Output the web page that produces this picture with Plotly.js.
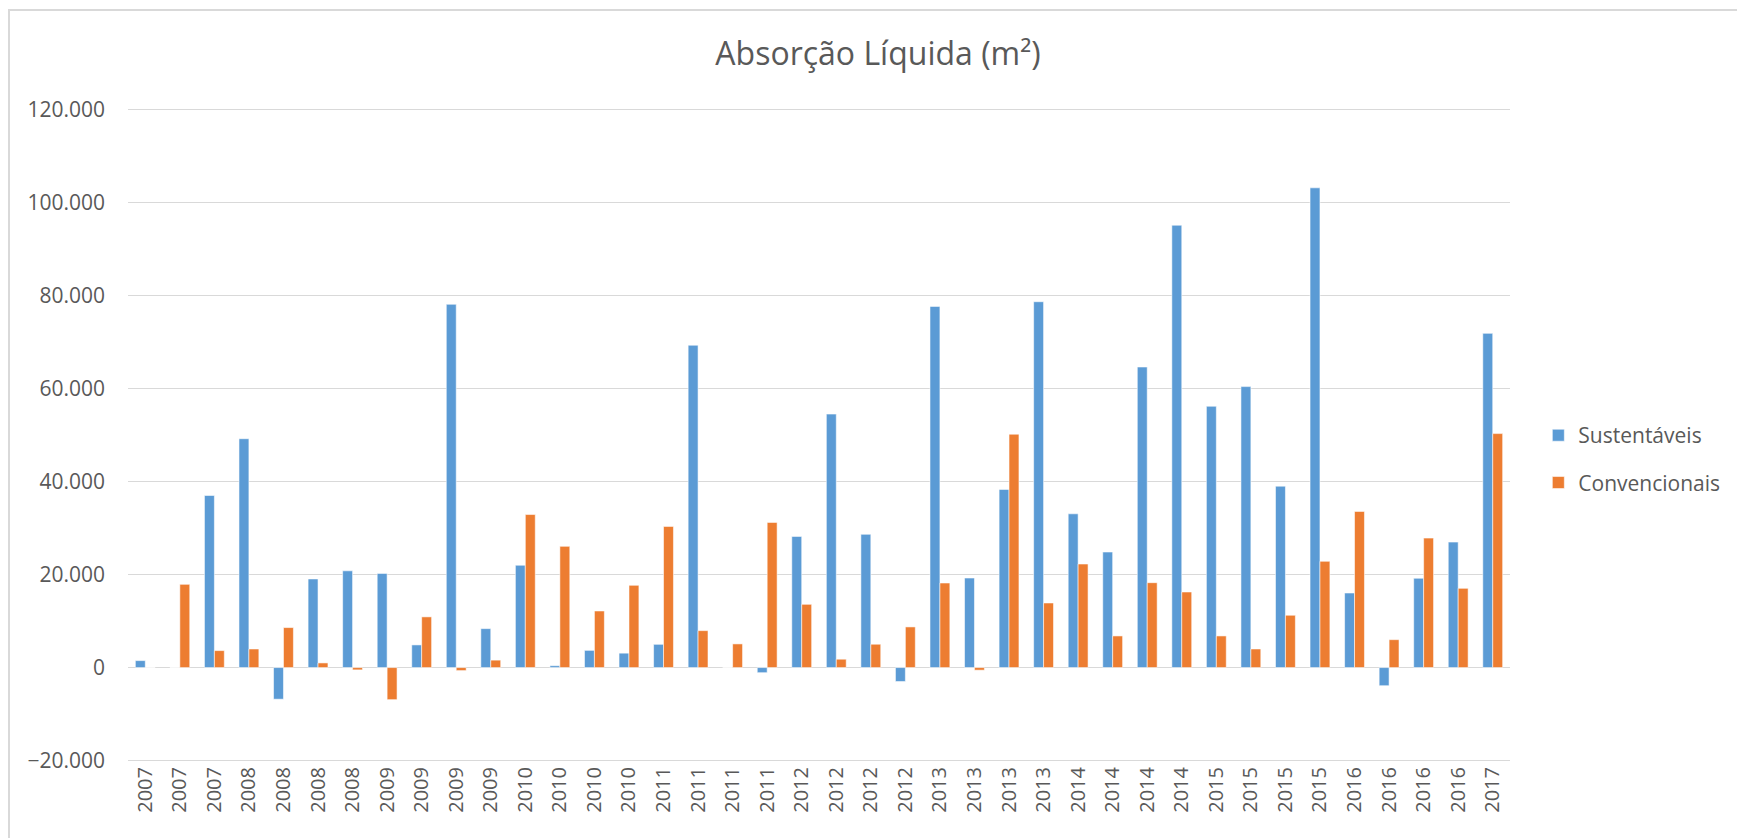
<!DOCTYPE html>
<html>
<head>
<meta charset="utf-8">
<script src="https://cdn.plot.ly/plotly-3.0.1.min.js"></script>
<style>
  html, body { margin: 0; padding: 0; background: #ffffff; }
  #wrap { position: relative; width: 1737px; height: 838px; overflow: hidden; }
  #chart { width: 1737px; height: 838px; }
  #frame { position: absolute; left: 8px; top: 9px; width: 1740px; height: 840px;
           border-left: 2px solid #D9D9D9; border-top: 2px solid #D9D9D9; pointer-events: none; }
</style>
</head>
<body>
<div id="wrap">
  <div id="chart"></div>
  <div id="frame"></div>
</div>
<script>
const categories = ["2007","2007","2007","2008","2008","2008","2008","2009","2009","2009","2009",
  "2010","2010","2010","2010","2011","2011","2011","2011","2012","2012","2012","2012",
  "2013","2013","2013","2013","2014","2014","2014","2014","2015","2015","2015","2015",
  "2016","2016","2016","2016","2017"];

const sustentaveis = [1500, 0, 37000, 49200, -6800, 19050, 20800, 20250, 4870, 78100, 8370,
  22000, 400, 3700, 3100, 5000, 69300, 0, -1100, 28200, 54500, 28650, -3000,
  77650, 19250, 38300, 78650, 33060, 24840, 64620, 95100, 56180, 60400, 39000,
  103140, 16030, -3900, 19200, 26980, 71850];

const convencionais = [0, 17900, 3650, 4000, 8600, 1000, -500, -6900, 10900, -650, 1600,
  32900, 26060, 12170, 17690, 30350, 7940, 5090, 31210, 13600, 1800, 5020, 8740,
  18180, -560, 50170, 13890, 22260, 6800, 18250, 16250, 6800, 4000, 11250,
  22840, 33570, 6000, 27840, 17040, 50300];

const seriesNames = ["Sustentáveis", "Convencionais"];
const yTicks = [-20000, 0, 20000, 40000, 60000, 80000, 100000, 120000];

const idx = categories.map((_, i) => i);
const FONT = "'Open Sans', 'Noto Sans', sans-serif";
const TXT = "#595959";

const traces = [
  {
    type: "bar", name: seriesNames[0], x: idx, y: sustentaveis,
    marker: { color: "#5B9BD5", line: { color: "rgba(255,255,255,0.55)", width: 1 } },
    legendgroup: "a"
  },
  {
    type: "bar", name: seriesNames[1], x: idx, y: convencionais,
    marker: { color: "#ED7D31", line: { color: "rgba(255,255,255,0.55)", width: 1 } },
    legendgroup: "b"
  }
];

const layout = {
  width: 1737, height: 838,
  paper_bgcolor: "#ffffff", plot_bgcolor: "#ffffff",
  margin: { l: 128, r: 219, t: 108, b: 76, pad: 0 },
  separators: ",.",
  barmode: "group",
  bargap: 0.425,
  bargroupgap: 0,
  font: { family: FONT, color: TXT, size: 21 },
  title: {
    text: "Absorção Líquida (m²)",
    font: { family: FONT, size: 32, color: TXT },
    xref: "container", x: 0.5055, xanchor: "center",
    yref: "container", y: 1 - 54 / 838, yanchor: "middle"
  },
  xaxis: {
    type: "linear",
    range: [-0.5, categories.length - 0.5],
    tickmode: "array", tickvals: idx, ticktext: categories,
    tickangle: -90,
    tickfont: { family: FONT, size: 20, color: TXT },
    showgrid: false, zeroline: false, showline: false,
    ticks: "", fixedrange: true
  },
  yaxis: {
    range: [-20300, 120300],
    tickmode: "array", tickvals: yTicks,
    tickformat: ",d",
    tickfont: { family: FONT, size: 21, color: TXT },
    showgrid: true, gridcolor: "#D9D9D9", gridwidth: 1.3,
    zeroline: true, zerolinecolor: "#D9D9D9", zerolinewidth: 1.5,
    showline: false, ticks: "", ticklabelstandoff: 22, fixedrange: true
  },
  showlegend: true,
  legend: {
    x: 1.0205, xanchor: "left",
    y: (760.7 - 415) / 651.7, yanchor: "top",
    traceorder: "grouped", tracegroupgap: 17,
    font: { family: FONT, size: 21, color: TXT },
    bgcolor: "rgba(0,0,0,0)"
  }
};

Plotly.newPlot("chart", traces, layout, { displayModeBar: false, staticPlot: true });
</script>
</body>
</html>
